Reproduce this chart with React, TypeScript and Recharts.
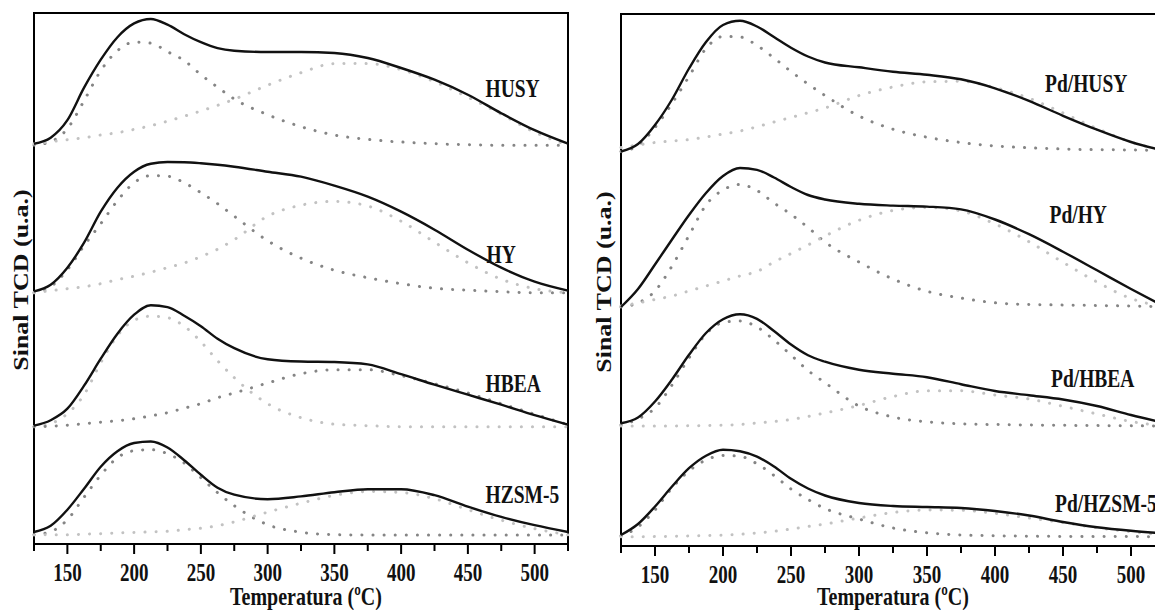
import { LineChart, Line, XAxis, YAxis, ReferenceArea } from 'recharts'

// temperature grid (ºC) shared by every curve
const temps = [125, 137.5, 150, 162.5, 175, 187.5, 200, 212.5, 225, 237.5, 250, 262.5, 275, 300, 325, 350, 375, 400, 425, 450, 475, 500, 525]
const majorTicks = [150, 200, 250, 300, 350, 400, 450, 500]
const allTicks = [125, 150, 175, 200, 225, 250, 275, 300, 325, 350, 375, 400, 425, 450, 475, 500, 525]

// signal (u.a.) above each curve's own baseline: total, low-T peak, high-T peak
const husyTotal = [1.5, 7.5, 25, 57.5, 85.5, 108, 121.8, 126.2, 120.5, 111, 103, 97, 94.5, 93.2, 93.2, 92.2, 87.2, 77.2, 65.5, 50.5, 32, 15, 1.5]
const husyLow = [0, 3.5, 16.5, 44.5, 74.5, 94.5, 103, 102, 93.5, 84.7, 70.5, 58, 46.2, 30.5, 18.5, 10.2, 5.8, 3.2, 1.5, 0.5, 0, 0, 0]
const husyHigh = [1.5, 3.5, 5.5, 7.5, 10.2, 12.5, 15.8, 19.5, 24, 29, 34.2, 39.8, 46, 60, 72.5, 81.5, 81.7, 75.5, 63.5, 48, 31, 13, 0]

const hyTotal = [1.3, 8, 25, 50, 81, 105, 121, 129, 130.7, 130.5, 129.5, 128, 126, 121, 116, 107, 96, 81, 63, 43, 25, 11, 2]
const hyLow = [0, 6, 23, 47, 69, 92, 110, 117, 116.5, 110, 100, 89, 76.5, 52, 34.5, 22.5, 15, 9, 4.5, 2.5, 1, 0, 0]
const hyHigh = [0, 2, 4, 6, 9, 13, 16.5, 20.5, 25, 29.7, 36, 43.5, 53, 76.5, 87.5, 91.3, 86.7, 71.5, 50.5, 30, 13.5, 4, 0]

const hbeaTotal = [1, 6.5, 18, 41, 68, 93, 112, 121.5, 119.5, 111, 100.5, 88, 78.5, 67.5, 65.2, 64.7, 62.3, 52.5, 42, 32, 22, 11.5, 2]
const hbeaLow = [0, 3, 13, 32, 64, 91, 106.5, 110.5, 109, 100.5, 85, 66, 49, 23, 9, 2.5, 1, 0, 0, 0, 0, 0, 0]
const hbeaHigh = [0, 0.5, 1.5, 3, 4.5, 6, 8, 10.8, 14, 18.5, 23, 29, 33.7, 43.7, 53, 57, 57, 51, 43, 33.7, 23, 12.5, 2]

const hzsmTotal = [3, 9.3, 25.3, 46.3, 68.3, 83.8, 92, 93.5, 87.5, 74.8, 60.3, 47.3, 40.3, 35.8, 38.6, 42.8, 45.8, 45.8, 39.8, 28.3, 18.1, 9.8, 3]
const hzsmLow = [0.3, 3.3, 15.3, 37.8, 59.8, 77.3, 84.3, 85.3, 81.3, 72, 57.3, 42.3, 29.3, 10.3, 2.8, 0.3, 0, 0, 0, 0, 0, 0, 0]
const hzsmHigh = [0, 0.3, 0.3, 0.8, 1.3, 2.1, 2.5, 3.1, 3.7, 5.3, 6.8, 9.3, 13.1, 22.8, 31.8, 39.6, 43.5, 42.6, 36.3, 25.3, 14.8, 6.3, 0.3]

const pdHusyTotal = [0, 7.5, 26.5, 52, 83, 109.5, 126.5, 130.7, 125, 114.5, 103.8, 95, 89, 84.2, 79.8, 76.7, 72.2, 63.2, 50.6, 35.7, 21.8, 9.5, 0.5]
const pdHusyLow = [0, 6, 24, 48, 75, 103, 115, 114.5, 106, 93.5, 80, 67.5, 56, 35.5, 22.3, 14.3, 9, 5.5, 3.7, 2.5, 1.8, 1.5, 1]
const pdHusyHigh = [4, 6.5, 9, 10.5, 11.9, 14.5, 17.5, 20.5, 24.7, 29.5, 34, 38.7, 43.5, 55.9, 64.5, 69.7, 70.2, 63.8, 53.3, 38.5, 23, 9.5, 0.5]

const pdHyTotal = [0, 18, 42.5, 67.5, 92, 114, 131, 139, 137.2, 129.5, 120, 112, 107.5, 103.2, 101.4, 100.4, 97.6, 87.5, 72.8, 55.3, 36.7, 18, 0]
const pdHyLow = [0, 4, 16, 41, 71.5, 102, 117, 122.5, 116.5, 104, 92.7, 79.5, 65, 45, 28, 15.7, 9, 4.2, 2.5, 2, 1.5, 1, 0.3]
const pdHyHigh = [1, 4, 7.5, 11, 16, 21, 26, 31, 35.5, 45, 53.5, 62, 71, 86.7, 96.5, 99.6, 96, 83, 65.3, 44.7, 25, 8.5, 0]

const pdHbeaTotal = [2.7, 8.5, 24.5, 46.5, 71.2, 93, 106.8, 111.8, 107.2, 95, 81.5, 70.8, 64.3, 56.3, 52.3, 48.8, 41.8, 35, 30.8, 26.5, 20, 11, 3]
const pdHbeaLow = [1, 7, 18, 41, 68, 92, 103.5, 105, 99, 86, 71, 55.5, 43.3, 20, 9, 4.2, 2.2, 1.5, 1, 0.7, 0.4, 0.2, 0]
const pdHbeaHigh = [0, 0, 0, 0, 0.2, 0.5, 0.8, 1.5, 3, 4.5, 6.5, 9.5, 13, 20.5, 29.5, 35.2, 35.2, 31, 27, 19.7, 12, 4.5, 0]

const pdHzsmTotal = [1.7, 12.7, 30.2, 50.2, 68.5, 81, 87, 85.5, 80, 70.2, 57.9, 48.2, 41.2, 33.7, 30.7, 29.7, 28.7, 25.7, 21.2, 14.7, 9.5, 5.9, 3.2]
const pdHzsmLow = [0.7, 9.7, 26.7, 48.7, 65.7, 76.7, 81.2, 80.4, 72.9, 61.2, 47.7, 37.2, 28.2, 17.7, 8.7, 3.9, 1.7, 0.9, 0.5, 0.3, 0.2, 0.1, 0]
const pdHzsmHigh = [0, 0, 0.1, 0.4, 0.7, 1.1, 1.5, 2.4, 3.7, 5.4, 7.7, 10.2, 12.7, 18.7, 24.2, 26.7, 26.4, 23.4, 18.7, 14.2, 8.9, 5, 1.7]

// vertical offsets used to stack the curves (u.a.)
const leftOffsets = [398.8, 251.3, 117.3, 9]
const rightOffsets = [394.5, 239, 120, 9.3]

const DARK = '#858585'
const LIGHT = '#c2c2c2'
const FONT = '"Liberation Serif", "Times New Roman", serif'

type Sample = {
  key: string
  total: number[]
  low: number[]
  high: number[]
  lowColor: string
  highColor: string
}

const leftSamples: Sample[] = [
  { key: 'husy', total: husyTotal, low: husyLow, high: husyHigh, lowColor: DARK, highColor: LIGHT },
  { key: 'hy', total: hyTotal, low: hyLow, high: hyHigh, lowColor: DARK, highColor: LIGHT },
  { key: 'hbea', total: hbeaTotal, low: hbeaLow, high: hbeaHigh, lowColor: LIGHT, highColor: DARK },
  { key: 'hzsm', total: hzsmTotal, low: hzsmLow, high: hzsmHigh, lowColor: DARK, highColor: LIGHT },
]

const rightSamples: Sample[] = [
  { key: 'pdhusy', total: pdHusyTotal, low: pdHusyLow, high: pdHusyHigh, lowColor: DARK, highColor: LIGHT },
  { key: 'pdhy', total: pdHyTotal, low: pdHyLow, high: pdHyHigh, lowColor: DARK, highColor: LIGHT },
  { key: 'pdhbea', total: pdHbeaTotal, low: pdHbeaLow, high: pdHbeaHigh, lowColor: DARK, highColor: LIGHT },
  { key: 'pdhzsm', total: pdHzsmTotal, low: pdHzsmLow, high: pdHzsmHigh, lowColor: DARK, highColor: LIGHT },
]

const buildRows = (samples: Sample[], offsets: number[]) =>
  temps.map((T, i) => {
    const row: Record<string, number> = { T }
    samples.forEach((s, j) => {
      row[s.key + '_t'] = s.total[i] + offsets[j]
      row[s.key + '_l'] = s.low[i] + offsets[j]
      row[s.key + '_h'] = s.high[i] + offsets[j]
    })
    return row
  })

const leftData = buildRows(leftSamples, leftOffsets)
const rightData = buildRows(rightSamples, rightOffsets)

const AxisTick = (props: any) => {
  const { x, y, payload } = props
  const major = majorTicks.includes(payload.value)
  return (
    <g>
      <line x1={x} x2={x} y1={y} y2={y + (major ? 10 : 7)} stroke="#000" strokeWidth={2} />
      {major && (
        <text
          transform={`translate(${x},${y + 37}) scale(1,1.33)`}
          textAnchor="middle"
          fontFamily={FONT}
          fontWeight="bold"
          fontSize={19}
          fill="#111"
        >
          {payload.value}
        </text>
      )}
    </g>
  )
}

function Panel({ data, samples, width, margin, yMax }: {
  data: Record<string, number>[]
  samples: Sample[]
  width: number
  margin: { top: number; right: number; bottom: number; left: number }
  yMax: number
}) {
  const dotted = (key: string, color: string) => (
    <Line
      key={key}
      type="monotone"
      dataKey={key}
      stroke={color}
      strokeWidth={3}
      strokeDasharray="0.1 11"
      strokeLinecap="round"
      dot={false}
      activeDot={false}
      isAnimationActive={false}
    />
  )
  return (
    <LineChart width={width} height={610} data={data} margin={margin}>
      <XAxis
        dataKey="T"
        type="number"
        domain={[125, 525]}
        ticks={allTicks}
        interval={0}
        tick={<AxisTick />}
        tickLine={false}
        tickSize={0}
        tickMargin={0}
        axisLine={{ stroke: '#000', strokeWidth: 2 }}
        height={60}
      />
      <YAxis type="number" domain={[0, yMax]} width={0} hide />
      <ReferenceArea x1={125} x2={525} y1={0} y2={yMax} fill="none" stroke="#000" strokeWidth={2} />
      {samples.flatMap((s) => [dotted(s.key + '_l', s.lowColor), dotted(s.key + '_h', s.highColor)])}
      {samples.map((s) => (
        <Line
          key={s.key + '_t'}
          type="monotone"
          dataKey={s.key + '_t'}
          stroke="#111"
          strokeWidth={2.4}
          dot={false}
          activeDot={false}
          isAnimationActive={false}
        />
      ))}
    </LineChart>
  )
}

const sampleLabels = [
  { text: 'HUSY', x: 485.5, y: 96.5 },
  { text: 'HY', x: 486.5, y: 263 },
  { text: 'HBEA', x: 485.5, y: 391.5 },
  { text: 'HZSM-5', x: 485.5, y: 502.5 },
  { text: 'Pd/HUSY', x: 1045, y: 91.5 },
  { text: 'Pd/HY', x: 1049.5, y: 223 },
  { text: 'Pd/HBEA', x: 1051, y: 386.5 },
  { text: 'Pd/HZSM-5', x: 1055, y: 511.5 },
]

export default function App() {
  const textProps = { fontFamily: FONT, fontWeight: 'bold' as const, fill: '#111' }
  return (
    <div style={{ position: 'fixed', left: 0, top: 0, width: 1155, height: 610, overflow: 'hidden', background: '#fff' }}>
      <div style={{ position: 'absolute', left: 0, top: 0 }}>
        <Panel data={leftData} samples={leftSamples} width={580} margin={{ top: 13, right: 12, bottom: 6, left: 34 }} yMax={531} />
      </div>
      <div style={{ position: 'absolute', left: 580, top: 0 }}>
        <Panel data={rightData} samples={rightSamples} width={600} margin={{ top: 14, right: 15, bottom: 4, left: 41 }} yMax={532} />
      </div>
      <svg width={1155} height={610} style={{ position: 'absolute', left: 0, top: 0, pointerEvents: 'none' }}>
        {sampleLabels.map((l) => (
          <text key={l.text} transform={`translate(${l.x},${l.y}) scale(1,1.33)`} fontSize={19.5} {...textProps}>
            {l.text}
          </text>
        ))}
        <text transform="translate(306,605) scale(1,1.3)" textAnchor="middle" fontSize={20} {...textProps}>
          Temperatura (ºC)
        </text>
        <text transform="translate(893,605) scale(1,1.3)" textAnchor="middle" fontSize={20} {...textProps}>
          Temperatura (ºC)
        </text>
        <text transform="translate(28,280) rotate(-90) scale(1.3,1)" textAnchor="middle" fontSize={20} {...textProps}>
          Sinal TCD (u.a.)
        </text>
        <text transform="translate(611,282) rotate(-90) scale(1.3,1)" textAnchor="middle" fontSize={20} {...textProps}>
          Sinal TCD (u.a.)
        </text>
      </svg>
    </div>
  )
}
